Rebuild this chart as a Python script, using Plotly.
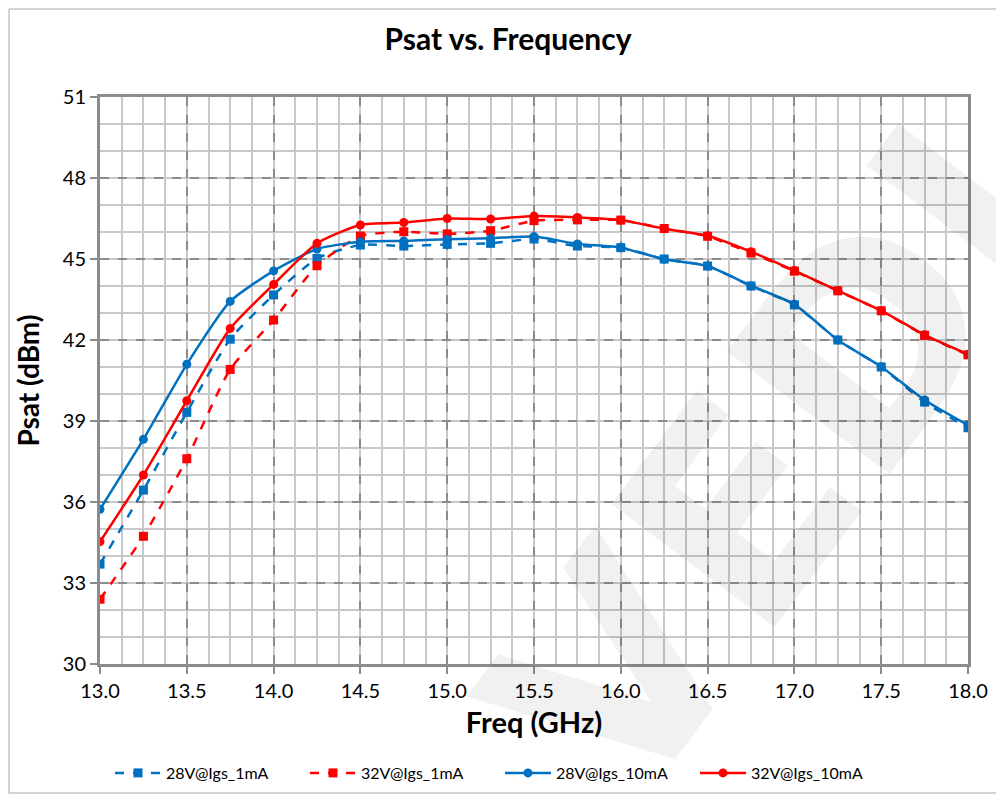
import plotly.graph_objects as go

freq = [13.0, 13.25, 13.5, 13.75, 14.0, 14.25, 14.5, 14.75, 15.0, 15.25, 15.5,
        15.75, 16.0, 16.25, 16.5, 16.75, 17.0, 17.25, 17.5, 17.75, 18.0]

v28_1mA = [33.7, 36.44, 39.32, 42.03, 43.67, 45.02, 45.52, 45.48, 45.54, 45.58, 45.74,
           45.48, 45.42, 45.0, 44.74, 44.0, 43.3, 42.0, 41.0, 39.7, 38.75]
v32_1mA = [32.4, 34.73, 37.6, 40.91, 42.74, 44.75, 45.85, 46.01, 45.93, 46.05, 46.42,
           46.45, 46.44, 46.13, 45.84, 45.22, 44.55, 43.82, 43.08, 42.17, 41.45]
v28_10mA = [35.73, 38.32, 41.1, 43.43, 44.56, 45.37, 45.64, 45.67, 45.73, 45.77, 45.83,
            45.56, 45.42, 44.99, 44.74, 44.01, 43.32, 42.0, 41.01, 39.78, 38.85]
v32_10mA = [34.53, 37.0, 39.75, 42.43, 44.06, 45.58, 46.26, 46.35, 46.5, 46.48, 46.59,
            46.54, 46.44, 46.12, 45.86, 45.27, 44.57, 43.83, 43.09, 42.19, 41.47]

names = ["28V@Igs_1mA", "32V@Igs_1mA", "28V@Igs_10mA", "32V@Igs_10mA"]
x_ticks = [13.0, 13.5, 14.0, 14.5, 15.0, 15.5, 16.0, 16.5, 17.0, 17.5, 18.0]
y_ticks = [30, 33, 36, 39, 42, 45, 48, 51]

BLUE = "#0070C0"
RED = "#FF0000"
FONT = "Lato"

# page has an 8px body margin; plot area targeted at page x 100..968, y 97..664
W, H = 996, 786
ML, MR, MT = 92, 36, 89
PW = W - ML - MR          # 868
PH = 567
MB = H - MT - PH          # 130
OFF = 8


def px(xp):   # page x -> paper x
    return (xp - OFF - ML) / PW


def py(yp):   # page y -> paper y
    return (MT + PH - (yp - OFF)) / PH


fig = go.Figure()
series = [
    (v28_1mA, names[0], BLUE, "dash", "square"),
    (v32_1mA, names[1], RED, "dash", "square"),
    (v28_10mA, names[2], BLUE, "solid", "circle"),
    (v32_10mA, names[3], RED, "solid", "circle"),
]
for vals, name, col, dash, sym in series:
    fig.add_trace(go.Scatter(
        x=freq, y=vals, name=name, mode="lines+markers",
        line=dict(color=col, width=2.5, dash=dash, shape="spline", smoothing=0.6),
        marker=dict(color=col, symbol=sym, size=9),
    ))

# faint watermark
fig.add_annotation(
    text="<b>VEDI</b>", x=px(775), y=py(465), xref="paper", yref="paper",
    xanchor="center", yanchor="middle",
    showarrow=False, textangle=-53,
    font=dict(family="DejaVu Sans", size=280, color="rgba(0,0,0,0.055)"),
)

# outer chart border
fig.add_shape(type="rect", xref="paper", yref="paper",
              x0=px(9), x1=px(1000), y0=py(793), y1=py(9),
              line=dict(color="#a6a6a6", width=1), fillcolor="rgba(0,0,0,0)", layer="below")

fig.update_layout(
    width=W, height=H,
    margin=dict(l=ML, r=MR, t=MT, b=MB, autoexpand=False),
    paper_bgcolor="white", plot_bgcolor="white",
    font=dict(family=FONT, color="#000000"),
    title=dict(text="<b>Psat vs. Frequency</b>", x=(508 - OFF) / W, xanchor="center",
               y=1 - (39 - OFF) / H, yanchor="middle",
               font=dict(family=FONT, size=30, color="#000000")),
    showlegend=True,
    legend=dict(orientation="h", x=px(110), xanchor="left",
                y=py(773), yanchor="middle",
                font=dict(family=FONT, size=16), entrywidth=134, itemwidth=46,
                bgcolor="rgba(0,0,0,0)"),
    xaxis=dict(
        range=[13.0, 18.0], tickvals=x_ticks, ticktext=[f"{v:.1f}" for v in x_ticks],
        tickfont=dict(family=FONT, size=20), ticks="outside", ticklen=7,
        tickcolor="#8c8c8c", tickwidth=1.5, automargin=False,
        showline=True, linecolor="#8c8c8c", linewidth=3, mirror=True,
        showgrid=True, gridcolor="#8c8c8c", gridwidth=1.5, griddash="dash",
        minor=dict(dtick=0.125, showgrid=True, gridcolor="#c8c8c8", gridwidth=1.5,
                   griddash="solid"),
        zeroline=False,
        title=dict(text="<b>Freq (GHz)</b>", font=dict(family=FONT, size=29), standoff=12),
    ),
    yaxis=dict(
        range=[30, 51], tickvals=y_ticks,
        tickfont=dict(family=FONT, size=20), ticks="outside", ticklen=7,
        tickcolor="#8c8c8c", tickwidth=1.5, automargin=False,
        showline=True, linecolor="#8c8c8c", linewidth=3, mirror=True,
        showgrid=True, gridcolor="#8c8c8c", gridwidth=1.5, griddash="dash",
        minor=dict(dtick=1, showgrid=True, gridcolor="#c8c8c8", gridwidth=1.5,
                   griddash="solid"),
        zeroline=False,
        title=dict(text="<b>Psat (dBm)</b>", font=dict(family=FONT, size=28), standoff=15),
    ),
)

fig.write_html("out.html")
